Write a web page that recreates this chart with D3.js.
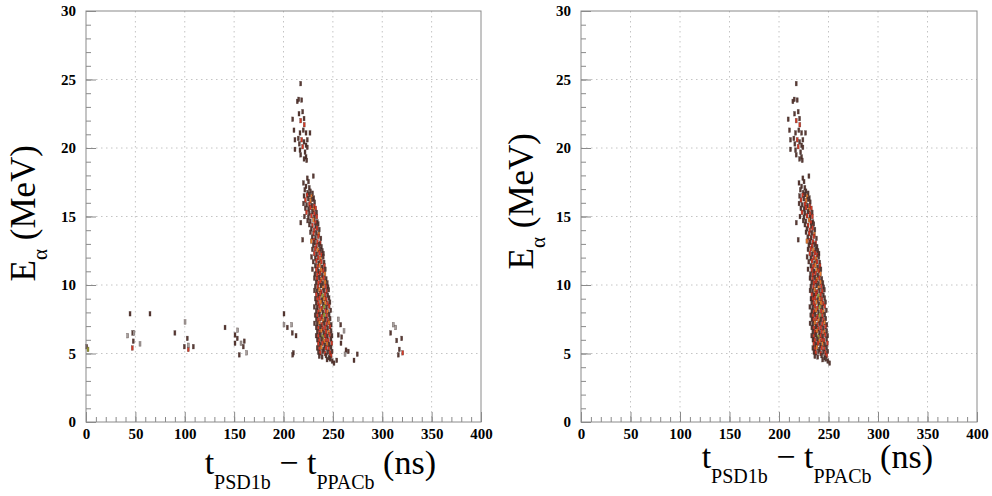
<!DOCTYPE html>
<html>
<head>
<meta charset="utf-8">
<script src="https://cdn.jsdelivr.net/npm/d3@7/dist/d3.min.js"></script>
<style>
  html, body { margin: 0; padding: 0; background: #fff; }
  svg { display: block; }
</style>
</head>
<body>
<svg id="chart" width="992" height="496"></svg>
<script>
// ---------------- DATA ----------------
const xDomain = [0, 400];
const yDomain = [0, 30];
const xMajorTicks = [0, 50, 100, 150, 200, 250, 300, 350, 400];
const yMajorTicks = [0, 5, 10, 15, 20, 25, 30];
const xMinorTicks = d3.range(0, 401, 10);
const yMinorTicks = d3.range(0, 31, 1);
const xTitleParts = ["t", "PSD1b", " \u2212 t", "PPACb", " (ns)"];
const yTitleParts = ["E", "\u03b1", " (MeV)"];

// upper group of the main locus: [t (ns), E (MeV), level]
const upperGroup = [
  [217.4,24.7,1],[214,23.4,1],[215.4,23.55,1],[218.4,23.5,1],[215.7,22.5,1],[219.4,22.65,1],
  [209.3,22.1,1],[217.4,22.0,2],[220.8,22.15,1],[221,21.7,2],[210.6,21.3,1],[216.7,21.1,1],
  [220,21.3,1],[222.8,21.1,1],[226.8,21.1,1],[211.6,20.6,1],[215,20.7,1],[218.4,20.6,2],
  [220.8,20.45,1],[224.1,20.6,1],[216,20.3,1],[219.4,20.1,2],[222.8,20.2,1],[211.6,19.9,1],
  [216.7,19.85,1],[221.8,19.7,1],[224.1,20.05,1],[217.4,19.5,1],[222.8,19.35,1],[220.8,19.2,1],
  [223.5,19.1,1]
];

// main band: [t (ns), E (MeV), level]
const mainBand = [
  [230.2,17.95,1],[224.1,17.8,1],[225.3,17.55,1],[220.2,17.45,1],[222.8,17.2,1],[226.1,17.1,1],
  [221.6,16.95,1],[227.2,16.85,1],[229.4,16.7,1],[224.5,16.75,1],
  [220.8,16.5,1],[223.9,16.55,2],[226.3,16.6,1],[228.4,16.45,3],[230.6,16.35,1],
  [222.2,16.2,2],[225.1,16.3,1],[227.4,16.15,3],[229.6,16.25,1],[231.5,16.05,1],
  [220.3,15.95,1],[223.4,15.85,1],[226.2,15.9,2],[228.7,15.8,1],[231.1,15.75,2],
  [222.1,15.6,1],[225.4,15.55,1],[227.3,15.65,2],[230.2,15.5,3],[232.6,15.6,2],
  [223.3,15.3,2],[226.1,15.25,1],[229.2,15.35,1],[231.4,15.2,2],[233.5,15.3,1],
  [221.2,15.0,1],[225.2,14.95,1],[228.3,15.05,2],[231.3,14.9,1],[233.7,15.0,2],
  [224.5,14.7,1],[227.1,14.65,1],[230.4,14.75,3],[234.2,14.6,1],[232.3,14.55,2],
  [217.5,14.55,1],[226.2,14.4,1],[229.3,14.35,2],[232.6,14.3,1],[235.1,14.45,1],
  [228.2,14.1,1],[231.1,14.0,2],[233.9,14.15,2],[236.2,14.05,1],
  [227.3,13.85,1],[230.4,13.75,2],[233.2,13.8,1],[235.8,13.7,3],
  [229.1,13.5,1],[232.4,13.45,1],[235.2,13.55,2],[237.8,13.4,1],[230.8,13.25,2],
  [219.4,13.3,1],[228.2,13.2,3],[231.5,13.1,1],[234.3,13.15,2],[237.1,13.05,2],
  [230.2,12.9,1],[233.4,12.85,2],[236.1,12.95,1],[238.4,12.8,1],
  [229.3,12.6,1],[232.1,12.65,2],[234.7,12.55,3],[237.2,12.6,1],[239.3,12.5,1],
  [231.2,12.3,2],[233.6,12.25,1],[236.3,12.35,2],[238.5,12.2,2],[240.4,12.3,1],
  [228.4,12.05,1],[232.2,11.95,1],[235.1,12.0,2],[237.4,11.9,3],[240.2,12.05,1],
  [230.1,11.7,1],[233.3,11.75,2],[235.8,11.6,1],[238.4,11.7,2],[241.1,11.65,1],
  [232.2,11.4,1],[234.5,11.35,2],[236.6,11.45,3],[239.1,11.3,1],[241.4,11.4,2],
  [229.3,11.15,1],[233.2,11.1,2],[235.4,11.0,1],[238.1,11.1,3],[240.3,11.05,2],[242.3,11.15,1],
  [231.8,10.8,1],[234.2,10.75,2],[236.9,10.85,2],[239.2,10.7,1],[241.9,10.8,3],
  [231.3,10.5,1],[233.9,10.45,2],[236.2,10.55,1],[238.4,10.4,3],[240.8,10.5,2],[243.2,10.45,1],
  [233.1,10.2,1],[235.3,10.15,2],[237.4,10.25,2],[239.8,10.1,1],[242.1,10.2,3],[244.3,10.15,1],
  [232.2,9.9,1],[234.8,9.85,2],[237.9,9.95,1],[240.2,9.8,3],[242.8,9.9,2],[245.1,9.85,1],
  [231.4,9.6,1],[233.8,9.55,1],[236.2,9.65,3],[238.3,9.5,2],[240.9,9.6,1],[243.6,9.55,2],[245.8,9.65,1],
  [233.2,9.3,2],[235.4,9.25,1],[237.3,9.35,2],[239.7,9.2,4],[242.2,9.3,2],[244.8,9.25,1],
  [232.3,9.0,1],[234.3,8.95,2],[236.4,9.05,2],[238.9,8.9,1],[241.2,9.0,3],[243.3,8.95,2],[246.1,9.05,1],
  [233.1,8.7,1],[235.2,8.65,2],[237.8,8.75,3],[240.2,8.6,1],[242.4,8.7,3],[244.7,8.65,2],[247.0,8.75,1],
  [231.2,8.4,1],[234.1,8.35,1],[236.3,8.45,2],[238.8,8.3,2],[241.1,8.4,4],[243.6,8.35,1],[246.2,8.45,2],
  [233.2,8.1,1],[235.3,8.05,2],[237.4,8.15,3],[239.9,8.0,1],[242.6,8.1,2],[244.8,8.05,3],[247.8,8.15,1],
  [232.1,7.8,1],[234.2,7.75,2],[236.5,7.85,1],[238.8,7.7,2],[241.1,7.8,4],[243.7,7.75,2],[246.2,7.85,1],
  [233.3,7.5,1],[235.2,7.45,2],[237.6,7.55,2],[240.1,7.4,3],[242.3,7.5,1],[244.8,7.45,2],[247.2,7.55,1],
  [231.4,7.2,1],[234.1,7.15,1],[236.3,7.25,3],[238.8,7.1,2],[241.2,7.2,1],[243.7,7.15,2],[246.1,7.25,3],[248.3,7.1,1],
  [233.2,6.9,1],[235.3,6.85,2],[237.4,6.95,1],[239.8,6.8,2],[242.2,6.9,2],[244.7,6.85,1],[247.1,6.95,2],
  [234.2,6.6,1],[236.4,6.55,2],[238.3,6.65,3],[240.8,6.5,1],[243.1,6.6,2],[245.7,6.55,3],[248.2,6.65,1],
  [233.1,6.3,1],[235.2,6.25,2],[237.3,6.35,1],[239.7,6.2,4],[242.1,6.3,2],[244.2,6.25,1],[246.8,6.35,2],[249.1,6.3,1],
  [234.3,6.0,1],[236.2,5.95,2],[238.6,6.05,1],[241.1,5.9,3],[243.2,6.0,2],[245.4,5.95,2],[248.1,6.05,1],
  [235.2,5.7,2],[237.3,5.65,1],[239.4,5.75,2],[241.8,5.6,1],[244.1,5.7,3],[246.2,5.65,1],[248.9,5.75,2],
  [234.2,5.4,1],[236.3,5.35,2],[238.2,5.45,3],[240.8,5.3,1],[243.1,5.4,2],[245.8,5.35,2],[248.1,5.45,1],
  [235.3,5.1,1],[237.2,5.05,2],[239.8,5.15,1],[242.2,5.0,2],[244.8,5.1,1],[247.1,5.05,2],[249.2,5.15,1],
  [236.2,4.8,1],[239.1,4.75,1],[243.1,4.85,1],[246.2,4.7,1],[248.2,4.85,2],
  [244.1,4.55,1],[247.2,4.6,1],[249.3,4.45,1],[251.1,4.3,1]
];

// scattered events (left panel only): [t (ns), E (MeV), level]
const scattered = [
  [0.7,5.5,1],[2,5.3,4],[44.6,7.9,1],[64.8,7.9,1],[42.2,6.3,0],[47.3,6.5,1],[48.5,6.5,0],
  [47.9,5.9,1],[46.9,5.4,2],[54.7,5.7,0],[90,6.5,1],[100.3,7.3,0],[102.6,6.1,1],[99.6,5.5,1],
  [103.6,5.3,2],[108.7,5.5,1],[103.6,5.6,0],[140.8,6.9,1],[150.9,6.35,1],[153.6,6.7,0],
  [153.2,6.1,1],[150.9,5.75,1],[157,5.75,0],[160.3,5.9,1],[159.3,5.5,1],[155.2,4.9,1],
  [162.7,5.05,0],[200.5,7.9,1],[200.5,7.1,0],[203.9,6.9,1],[208.3,7.1,0],[208.9,6.5,1],
  [212.7,6.3,1],[210,5.05,1],[209.3,4.9,1],[255.5,7.5,0],[257.9,7.1,1],[261.3,6.65,0],
  [255.5,6.35,1],[258.9,6.2,1],[258.2,5.75,1],[263.3,5.25,1],[265.6,5.15,1],[262.3,4.95,0],
  [274.7,4.95,1],[271.4,4.5,1],[253.9,4.5,1],[311.2,7.1,0],[313.6,6.9,0],[308.5,6.5,1],
  [314.6,5.95,1],[319.7,6.1,1],[317.3,5.3,1],[320.7,5.05,2],[316.3,4.9,1]
];

const levelColors = ["#a8a09e", "#5a3a34", "#d63a26", "#ec7a2c", "#9ea235"];

// ---------------- DRAW ----------------
const SERIF = '"Liberation Serif"';
const svg = d3.select("#chart");
const plotTop = 11, plotBottom = 422;

const panels = [
  { left: 86, right: 481, points: upperGroup.concat(mainBand, scattered),
    xTitleEnd: 436, xTitleBase: 474, yTitleTop: 145, yTitleBase: 35 },
  { left: 581, right: 977, points: upperGroup.concat(mainBand),
    xTitleEnd: 933, xTitleBase: 468, yTitleTop: 133, yTitleBase: 533 }
];

panels.forEach(p => {
  const x = d3.scaleLinear().domain(xDomain).range([p.left, p.right]);
  const y = d3.scaleLinear().domain(yDomain).range([plotBottom, plotTop]);
  const g = svg.append("g");

  // grid
  g.append("g").selectAll("line").data(xMajorTicks.slice(1, -1)).join("line")
    .attr("x1", d => x(d)).attr("x2", d => x(d))
    .attr("y1", plotTop).attr("y2", plotBottom)
    .attr("stroke", "#c4c4c4").attr("stroke-width", 1).attr("stroke-dasharray", "1.5,3.5");
  g.append("g").selectAll("line").data(yMajorTicks.slice(1, -1)).join("line")
    .attr("y1", d => y(d)).attr("y2", d => y(d))
    .attr("x1", p.left).attr("x2", p.right)
    .attr("stroke", "#c4c4c4").attr("stroke-width", 1).attr("stroke-dasharray", "1.5,3.5");

  // marks
  g.append("g").selectAll("rect").data(p.points).join("rect")
    .attr("x", d => x(d[0]) - 1)
    .attr("y", d => y(d[1]) - 2.3)
    .attr("width", 2)
    .attr("height", 4.6)
    .attr("fill", d => levelColors[d[2]])
    .attr("stroke", "rgba(45,25,22,0.55)")
    .attr("stroke-width", 0.5);

  // frame
  g.append("rect").attr("x", p.left).attr("y", plotTop)
    .attr("width", p.right - p.left).attr("height", plotBottom - plotTop)
    .attr("fill", "none").attr("stroke", "#8a8a8a").attr("stroke-width", 1);

  // x axis (inward ticks)
  const xMinor = d3.axisBottom(x).tickValues(xMinorTicks).tickSize(-5).tickFormat("");
  const gxm = g.append("g").attr("transform", `translate(0,${plotBottom})`).call(xMinor);
  const xMajor = d3.axisBottom(x).tickValues(xMajorTicks).tickSize(-10).tickPadding(6).tickFormat(d3.format("d"));
  const gx = g.append("g").attr("transform", `translate(0,${plotBottom})`).call(xMajor);
  [gxm, gx].forEach(a => { a.select(".domain").remove(); a.selectAll("line").attr("stroke", "#8a8a8a"); });
  gx.selectAll("text").attr("fill", "#000")
    .style("font-family", SERIF).style("font-size", "15px").style("font-weight", "bold");

  // y axis (inward ticks)
  const yMinor = d3.axisLeft(y).tickValues(yMinorTicks).tickSize(-5).tickFormat("");
  const gym = g.append("g").attr("transform", `translate(${p.left},0)`).call(yMinor);
  const yMajor = d3.axisLeft(y).tickValues(yMajorTicks).tickSize(-10).tickPadding(10).tickFormat(d3.format("d"));
  const gy = g.append("g").attr("transform", `translate(${p.left},0)`).call(yMajor);
  [gym, gy].forEach(a => { a.select(".domain").remove(); a.selectAll("line").attr("stroke", "#8a8a8a"); });
  gy.selectAll("text").attr("fill", "#000")
    .style("font-family", SERIF).style("font-size", "15px").style("font-weight", "bold");

  // x title
  const xt = g.append("text").style("font-family", SERIF).attr("fill", "#000")
    .attr("x", p.xTitleEnd).attr("y", p.xTitleBase)
    .attr("text-anchor", "end").style("font-size", "34px");
  xt.append("tspan").text(xTitleParts[0]);
  xt.append("tspan").style("font-size", "20px").attr("dy", 15).text(xTitleParts[1]);
  xt.append("tspan").attr("dy", -15).text(xTitleParts[2]);
  xt.append("tspan").style("font-size", "20px").attr("dy", 15).text(xTitleParts[3]);
  xt.append("tspan").attr("dy", -15).text(xTitleParts[4]);

  // y title
  const yt = g.append("text").style("font-family", SERIF).attr("fill", "#000")
    .attr("transform", `translate(${p.yTitleBase},${p.yTitleTop}) rotate(-90)`)
    .attr("text-anchor", "end").style("font-size", "35px");
  yt.append("tspan").text(yTitleParts[0]);
  yt.append("tspan").style("font-size", "21px").attr("dy", 12).text(yTitleParts[1]);
  yt.append("tspan").attr("dy", -12).text(yTitleParts[2]);
});
</script>
</body>
</html>
